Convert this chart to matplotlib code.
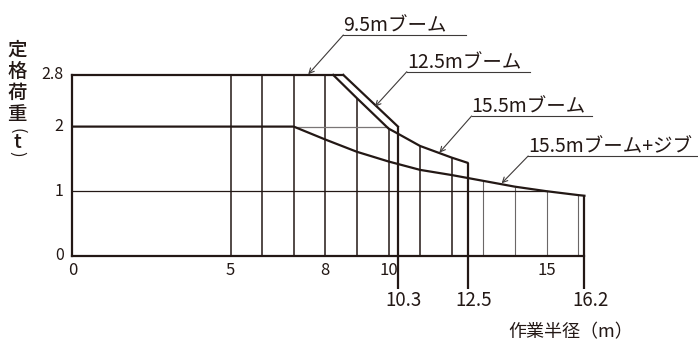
import matplotlib
matplotlib.use("Agg")
import matplotlib.pyplot as plt

plt.rcParams['font.family'] = ['Noto Sans CJK JP', 'DejaVu Sans']

# --- data (radius in m, rated load in t) ---
x_ticks = [0, 5, 8, 10, 15]
y_ticks = [0, 1, 2, 2.8]
y_tick_labels = ['0', '1', '2', '2.8']
end_radii = [10.3, 12.5, 16.2]
end_labels = ['10.3', '12.5', '16.2']

# flat top shared by the short booms
top_x = [0, 8.57]
top_y = [2.8, 2.8]

# 12.5m boom (outer steep line)
boom125_x = [8.57, 10.3]
boom125_y = [2.8, 2.0]

# 15.5m boom
boom155_x = [8.25, 9, 10, 10.3, 11, 12, 12.5]
boom155_y = [2.8, 2.44, 1.97, 1.89, 1.70, 1.52, 1.44]

# 15.5m boom + jib
jib_x = [0, 7, 8, 9, 10, 11, 12, 13, 14, 15, 16, 16.2]
jib_y = [2.0, 2.0, 1.80, 1.61, 1.46, 1.33, 1.25, 1.16, 1.07, 1.0, 0.94, 0.93]

# vertical grid lines and the height where each one stops
grid_x = [5, 6, 7, 8, 9, 10, 11, 12, 13, 14, 15, 16]
grid_top = [2.8, 2.8, 2.8, 2.8, 2.44, 1.97, 1.70, 1.52, 1.16, 1.07, 1.0, 0.94]

# labels: text, leader start (x, y), arrow tip (x, y), underline end x
labels = [
    ('9.5mブーム', (8.57, 3.418), (7.46, 2.81), 12.44),
    ('12.5mブーム', (10.58, 2.850), (9.57, 2.308), 14.48),
    ('15.5mブーム', (12.63, 2.164), (11.61, 1.596), 16.43),
    ('15.5mブーム+ジブ', (14.42, 1.545), (13.58, 1.122), 19.9),
]

INK = '#231815'
W, H = 698, 343
X0, SX = 72.5, 31.6     # pixel of x=0, pixels per metre
Y0, SY = 255.8, 64.6    # pixel row of y=0, pixels per tonne

fig = plt.figure(figsize=(W / 100, H / 100), dpi=100)
ax = fig.add_axes([0, 0, 1, 1])
ax.set_xlim(-X0 / SX, (W - X0) / SX)
ax.set_ylim(-(H - Y0) / SY, Y0 / SY)
ax.axis('off')

# grid
for gx, gt in zip(grid_x, grid_top):
    thin = gx >= 13
    ax.plot([gx, gx], [0, gt], color='#6b6767' if thin else INK,
            lw=0.8 if thin else 1.1, solid_capstyle='butt', zorder=1)
ax.plot([0, 15], [1, 1], color=INK, lw=0.9, zorder=1)
ax.plot([7, 9.97], [2, 2], color='#7a7676', lw=0.9, zorder=1)

# frame: left edge and baseline
ax.plot([0, 0], [0, 2.8], color=INK, lw=1.6, zorder=3)
ax.plot([0, 16.2], [0, 0], color=INK, lw=1.6, zorder=3)

# load curves
ax.plot(top_x, top_y, color=INK, lw=1.6, zorder=3)
ax.plot(boom125_x, boom125_y, color=INK, lw=1.6, zorder=3)
ax.plot(boom155_x, boom155_y, color=INK, lw=1.6, zorder=3)
ax.plot(jib_x, jib_y, color=INK, lw=1.6, zorder=3)

# end verticals running below the axis
ends_top = [boom125_y[-1], boom155_y[-1], jib_y[-1]]
for r, t, lab in zip(end_radii, ends_top, end_labels):
    ax.plot([r, r], [t, -0.51], color=INK, lw=1.6, zorder=3,
            solid_capstyle='butt')
    ax.text(r + 0.18, -0.69, lab, ha='center', va='center', fontsize=13.5,
            color=INK)

# tick labels
for xt in x_ticks:
    ax.text(xt, -0.22, str(xt), ha='center', va='center', fontsize=12,
            color=INK)
for yt, lab in zip(y_ticks, y_tick_labels):
    ax.text(-0.28, yt, lab, ha='right', va='center', fontsize=11.5,
            color=INK)

# axis titles (vertical, upright characters; brackets turned on their side)
ylab_x = (17 - X0) / SX
for ch, row in zip(['定', '格', '荷', '重'], [50, 71.7, 93.3, 115]):
    ax.text(ylab_x, (Y0 - row) / SY, ch, ha='center', va='center',
            fontsize=14, color=INK, fontweight='medium')
ax.text(ylab_x, (Y0 - 131) / SY, '(', rotation=-90, ha='center',
        va='center', fontsize=12, color=INK)
ax.text(ylab_x, (Y0 - 142.5) / SY, 't', ha='center', va='center',
        fontsize=14, color=INK, fontweight='medium')
ax.text(ylab_x, (Y0 - 154) / SY, ')', rotation=-90, ha='center',
        va='center', fontsize=12, color=INK)
ax.text((633 - X0) / SX, (Y0 - 332) / SY, '作業半径（m）', ha='right',
        va='center', fontsize=13, color=INK)

# curve labels with underline and leader arrow
for text, start, tip, uend in labels:
    ax.plot([start[0], uend], [start[1], start[1]], color='#3e3a39', lw=0.8)
    ax.annotate('', xy=tip, xytext=start,
                arrowprops=dict(arrowstyle='->', color='#3e3a39', lw=0.8,
                                shrinkA=0, shrinkB=0,
                                mutation_scale=9))
    ax.text(start[0], start[1] + 0.05, text, ha='left', va='baseline',
            fontsize=14, color=INK)

fig.savefig('out.png', dpi=100)
